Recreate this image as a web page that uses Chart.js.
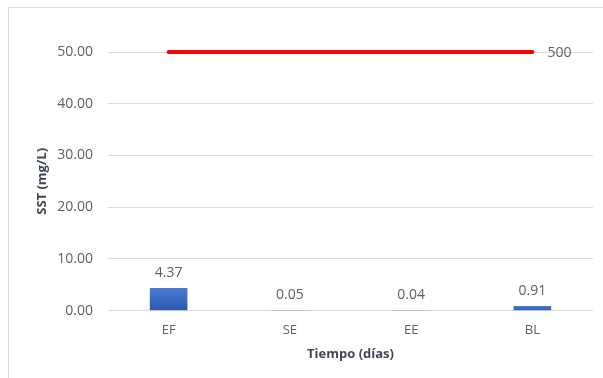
<!DOCTYPE html>
<html>
<head>
<meta charset="utf-8">
<script src="https://cdn.jsdelivr.net/npm/chart.js@4/dist/chart.umd.min.js"></script>
<style>
  html, body { margin: 0; padding: 0; background: #ffffff; }
  #wrap { width: 603px; height: 378px; position: relative; }
</style>
</head>
<body>
<div id="wrap"><canvas id="c" width="603" height="378"></canvas></div>
<script>
// Sólidos suspendidos totales por punto de muestreo
const categories = ['EF', 'SE', 'EE', 'BL'];
const sstValues = [4.37, 0.05, 0.04, 0.91];
const limitValues = [50, 50, 50, 50];
const limitName = '500';
const yTicks = [0, 10, 20, 30, 40, 50];

const TEXT = '#5a606c';
const TITLE = '#414854';
const GRID = '#d9d9d9';
const FONT = "'Open Sans', 'DejaVu Sans', sans-serif";

// Marco exterior y fondo blanco
const framePlugin = {
  id: 'frame',
  beforeDraw(chart) {
    const ctx = chart.ctx;
    ctx.save();
    ctx.fillStyle = '#ffffff';
    ctx.fillRect(0, 0, chart.width, chart.height);
    ctx.strokeStyle = GRID;
    ctx.lineWidth = 1;
    ctx.beginPath();
    ctx.moveTo(8.5, chart.height + 2);
    ctx.lineTo(8.5, 7.5);
    ctx.lineTo(chart.width + 2, 7.5);
    ctx.stroke();
    ctx.restore();
  }
};

// Etiquetas de datos: valores sobre las barras y nombre de la serie al final de la línea
const labelPlugin = {
  id: 'valueLabels',
  afterDatasetsDraw(chart) {
    const ctx = chart.ctx;
    ctx.save();
    ctx.font = '14px ' + FONT;
    ctx.fillStyle = TEXT;
    ctx.textBaseline = 'middle';

    const bars = chart.getDatasetMeta(0);
    ctx.textAlign = 'center';
    bars.data.forEach((el, i) => {
      ctx.fillText(sstValues[i].toFixed(2), el.x, el.y - 15);
    });

    const line = chart.getDatasetMeta(1);
    const last = line.data[line.data.length - 1];
    ctx.textAlign = 'left';
    ctx.fillText(chart.data.datasets[1].label, last.x + 15, last.y + 1);
    ctx.restore();
  }
};

function barGradient(context) {
  const chart = context.chart;
  const y = chart.scales.y;
  if (!chart.chartArea || !y || context.raw === undefined) return '#4472C4';
  const top = y.getPixelForValue(context.raw);
  const bottom = y.getPixelForValue(0);
  if (!isFinite(top) || !isFinite(bottom) || bottom - top < 1) return '#3a66c0';
  const g = chart.ctx.createLinearGradient(0, top, 0, bottom);
  g.addColorStop(0, '#4b7bd1');
  g.addColorStop(1, '#2d59b3');
  return g;
}

new Chart(document.getElementById('c'), {
  data: {
    labels: categories,
    datasets: [
      {
        type: 'bar',
        label: 'SST',
        data: sstValues,
        backgroundColor: barGradient,
        barPercentage: 0.31,
        categoryPercentage: 1,
        order: 2
      },
      {
        type: 'line',
        label: limitName,
        data: limitValues,
        borderColor: '#ff0000',
        borderWidth: 4,
        borderCapStyle: 'round',
        pointRadius: 0,
        pointHoverRadius: 0,
        tension: 0,
        clip: false,
        order: 1
      }
    ]
  },
  options: {
    responsive: false,
    animation: false,
    events: [],
    layout: { padding: { left: 20, right: 10, top: 52, bottom: 10 } },
    plugins: {
      legend: { display: false },
      tooltip: { enabled: false },
      title: { display: false }
    },
    scales: {
      x: {
        grid: { display: false, drawTicks: false },
        border: { display: false },
        ticks: {
          color: TEXT,
          font: { family: FONT, size: 13 },
          padding: 12
        },
        title: {
          display: true,
          text: 'Tiempo (días)',
          color: TITLE,
          font: { family: FONT, size: 13, weight: 'bold' },
          padding: { top: 0, bottom: 6 }
        },
        afterFit(scale) { scale.height = 57.3; }
      },
      y: {
        min: 0,
        max: 50,
        afterBuildTicks(scale) { scale.ticks = yTicks.map(v => ({ value: v })); },
        grid: { color: GRID, lineWidth: 1, drawTicks: false },
        border: { display: false },
        ticks: {
          color: TEXT,
          font: { family: FONT, size: 14 },
          padding: 15,
          callback: v => Number(v).toFixed(2)
        },
        title: {
          display: true,
          text: 'SST (mg/L)',
          color: TITLE,
          font: { family: FONT, size: 13, weight: 'bold' },
          padding: { top: 14, bottom: 0 }
        },
        afterFit(scale) { scale.width = 88; }
      }
    }
  },
  plugins: [framePlugin, labelPlugin]
});
</script>
</body>
</html>
